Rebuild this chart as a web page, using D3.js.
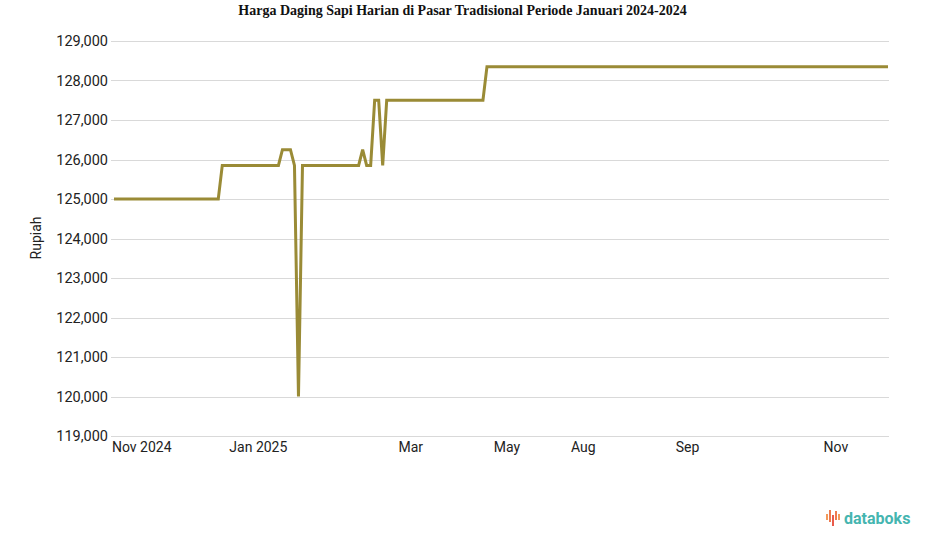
<!DOCTYPE html>
<html>
<head>
<meta charset="utf-8">
<script src="https://cdn.jsdelivr.net/npm/d3@7/dist/d3.min.js"></script>
<style>
  html, body { margin: 0; padding: 0; background: #fff; }
  svg { display: block; }
</style>
</head>
<body>
<svg id="chart" width="925" height="547"></svg>
<script>
// ---- Data (record index along the x axis, price in Rupiah) ----
const recordIndex = [0, 26, 27, 41, 42, 44, 45, 46, 47, 61, 62, 63, 64, 65, 66, 67, 68, 92, 93, 193];
const price = [125000, 125000, 125850, 125850, 126250, 126250, 125850, 120000, 125850, 125850,
               126250, 125850, 125850, 127500, 127500, 125850, 127500, 127500, 128350, 128350];
const xTickLabels = ["Nov 2024", "Jan 2025", "Mar", "May", "Aug", "Sep", "Nov"];
const xTickIndex = [0, 36, 74, 98, 117, 143, 180];
const yTicks = [119000, 120000, 121000, 122000, 123000, 124000, 125000, 126000, 127000, 128000, 129000];
const chartTitle = "Harga Daging Sapi Harian di Pasar Tradisional Periode Januari 2024-2024";
const yAxisTitle = "Rupiah";

const svg = d3.select("#chart");
const W = 925, H = 547;
const plotLeft = 114, plotRight = 888, plotTop = 41, plotBottom = 436;

const x = d3.scaleLinear().domain([0, 193]).range([plotLeft, plotRight]);
const y = d3.scaleLinear().domain([119000, 129000]).range([plotBottom, plotTop]);

// Title
svg.append("text")
  .attr("x", W / 2).attr("y", 15)
  .attr("text-anchor", "middle")
  .attr("font-family", "'Liberation Serif', 'Times New Roman', serif")
  .attr("font-weight", "bold")
  .attr("font-size", 14)
  .attr("fill", "#111")
  .text(chartTitle);

// Gridlines
svg.append("g").selectAll("line").data(yTicks).join("line")
  .attr("x1", 111).attr("x2", 889)
  .attr("y1", d => Math.round(y(d)) + 0.5).attr("y2", d => Math.round(y(d)) + 0.5)
  .attr("stroke", "#d9d9d9").attr("stroke-width", 1);

// Y axis labels
const fmt = d3.format(",");
svg.append("g").selectAll("text").data(yTicks).join("text")
  .attr("x", 108).attr("y", d => y(d))
  .attr("dy", "0.35em")
  .attr("text-anchor", "end")
  .attr("font-family", "Roboto, sans-serif")
  .attr("font-size", 14.5)
  .attr("fill", "#222")
  .text(d => fmt(d));

// Y axis title
svg.append("text")
  .attr("transform", "translate(41,238) rotate(-90)")
  .attr("text-anchor", "middle")
  .attr("font-family", "Roboto, sans-serif")
  .attr("font-size", 14)
  .attr("fill", "#222")
  .text(yAxisTitle);

// X axis labels
svg.append("g").selectAll("text").data(xTickLabels).join("text")
  .attr("x", (d, i) => i === 0 ? x(xTickIndex[i]) - 2 : x(xTickIndex[i]))
  .attr("y", 452)
  .attr("text-anchor", (d, i) => i === 0 ? "start" : "middle")
  .attr("font-family", "Roboto, sans-serif")
  .attr("font-size", 14)
  .attr("fill", "#222")
  .text(d => d);

// Line
const pts = recordIndex.map((d, i) => [d, price[i]]);
svg.append("path")
  .datum(pts)
  .attr("fill", "none")
  .attr("stroke", "#9a8b36")
  .attr("stroke-width", 3)
  .attr("stroke-linejoin", "miter")
  .attr("d", d3.line().x(d => x(d[0])).y(d => y(d[1])));

// databoks logo
const logo = svg.append("g").attr("transform", "translate(826,510)");
const bars = [
  {dx: 0, y0: 4, h: 6, c: "#f39a5a"},
  {dx: 3, y0: 0, h: 12, c: "#ee7a4e"},
  {dx: 6, y0: 5, h: 11, c: "#e95b4b"},
  {dx: 9, y0: 1, h: 9, c: "#ee7a4e"},
  {dx: 12, y0: 4, h: 6, c: "#f39a5a"}
];
logo.selectAll("rect").data(bars).join("rect")
  .attr("x", d => d.dx).attr("y", d => d.y0)
  .attr("width", 2).attr("height", d => d.h)
  .attr("fill", d => d.c);
svg.append("text")
  .attr("x", 844).attr("y", 524)
  .attr("font-family", "Roboto, sans-serif")
  .attr("font-weight", "bold")
  .attr("font-size", 16)
  .attr("fill", "#45b5b0")
  .text("databoks");
</script>
</body>
</html>
